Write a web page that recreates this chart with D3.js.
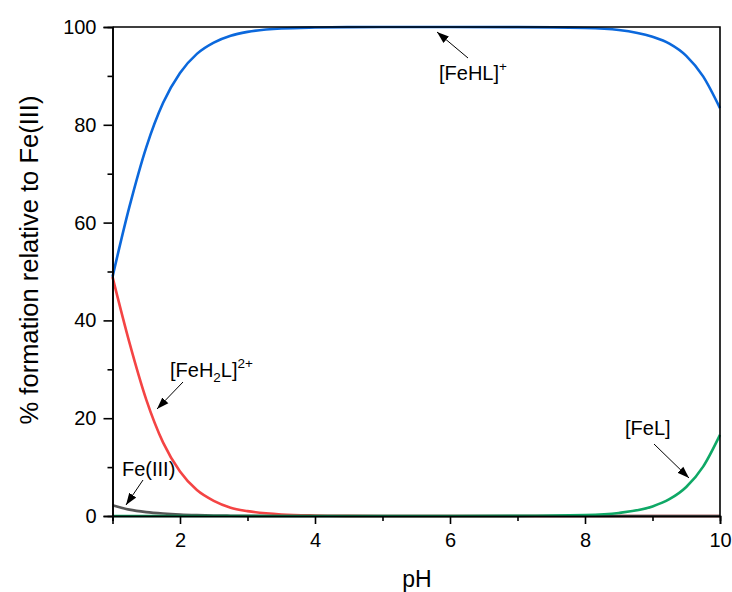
<!DOCTYPE html>
<html>
<head>
<meta charset="utf-8">
<script src="https://cdn.jsdelivr.net/npm/d3@7"></script>
<style>
  body { margin: 0; background: #fff; }
  svg text { font-family: "Liberation Sans", Arial, sans-serif; fill: #000; }
</style>
</head>
<body>
<svg id="chart" width="732" height="592"></svg>
<script>
/* species distribution, % relative to Fe(III) */
const pH = [1, 1.25, 1.5, 1.75, 2, 2.25, 2.5, 2.75, 3, 3.5, 4, 4.5, 5, 6, 7, 8, 8.5, 9, 9.25, 9.5, 9.75, 10];
const feFree = [2.2, 1.3, 0.8, 0.5, 0.3, 0.18, 0.1, 0.06, 0.03, 0.01, 0, 0, 0, 0, 0, 0, 0, 0, 0, 0, 0, 0];
const feH2L = [48.9, 35.5, 23.8, 15.0, 9.1, 5.3, 3.1, 1.7, 1.0, 0.32, 0.1, 0.03, 0.01, 0, 0, 0, 0, 0, 0, 0, 0, 0];
const feHL = [48.9, 63.2, 75.4, 84.5, 90.6, 94.5, 96.8, 98.2, 99.0, 99.7, 99.9, 99.97, 99.99, 100, 99.98, 99.8, 99.4, 98.0, 96.6, 94.1, 89.9, 83.4];
const feL = [0, 0, 0, 0, 0, 0, 0, 0, 0, 0, 0, 0, 0, 0, 0.02, 0.2, 0.63, 1.96, 3.43, 5.93, 10.1, 16.6];

const xMajor = [2, 4, 6, 8, 10];
const xMinor = [1, 3, 5, 7, 9];
const yMajor = [0, 20, 40, 60, 80, 100];
const yMinor = [10, 30, 50, 70, 90];

const svg = d3.select("#chart");
const m = { left: 112.5, right: 720, top: 27, bottom: 516 };

const x = d3.scaleLinear().domain([1, 10]).range([m.left, m.right]);
const y = d3.scaleLinear().domain([0, 100]).range([m.bottom, m.top]);

/* curves: red and grey under green, blue last */
const series = [
  { v: feH2L, c: "#f44444" },
  { v: feFree, c: "#555555" },
  { v: feL, c: "#0fa866" },
  { v: feHL, c: "#0b68dc" }
];
const line = d3.line().x(d => x(d[0])).y(d => y(d[1])).curve(d3.curveMonotoneX);
series.forEach(s => {
  svg.append("path")
    .datum(pH.map((p, i) => [p, s.v[i]]))
    .attr("fill", "none").attr("stroke", s.c).attr("stroke-width", 2.6)
    .attr("d", line);
});

/* frame */
svg.append("path")
  .attr("d", `M${m.left},${m.top}H${m.right}V${m.bottom}`)
  .attr("fill", "none").attr("stroke", "#000").attr("stroke-width", 1.6);

function styleAxis(g) {
  g.select(".domain").attr("stroke", "#000").attr("stroke-width", 1.6);
  g.selectAll(".tick line").attr("stroke", "#000").attr("stroke-width", 1.6);
  g.selectAll(".tick text").style("font-size", "20px").style("font-family", "Liberation Sans, Arial, sans-serif");
}

svg.append("g").attr("transform", `translate(0,${m.bottom})`)
  .call(d3.axisBottom(x).tickValues(xMinor).tickSize(5).tickFormat(""))
  .call(styleAxis);
svg.append("g").attr("transform", `translate(0,${m.bottom})`)
  .call(d3.axisBottom(x).tickValues(xMajor).tickSize(8).tickPadding(9).tickFormat(d3.format("d")))
  .call(styleAxis);
svg.append("g").attr("transform", `translate(${m.left},0)`)
  .call(d3.axisLeft(y).tickValues(yMinor).tickSize(5).tickFormat(""))
  .call(styleAxis);
svg.append("g").attr("transform", `translate(${m.left},0)`)
  .call(d3.axisLeft(y).tickValues(yMajor).tickSize(9).tickPadding(7).tickFormat(d3.format("d")))
  .call(styleAxis);

/* axis titles */
svg.append("text").attr("x", 417).attr("y", 587).attr("text-anchor", "middle")
  .style("font-size", "23px").text("pH");
svg.append("text").attr("transform", "rotate(-90)").attr("x", -260).attr("y", 38)
  .attr("text-anchor", "middle").style("font-size", "25.5px").text("% formation relative to Fe(III)");

/* arrows + labels */
svg.append("defs").append("marker")
  .attr("id", "head").attr("viewBox", "0 0 10 10").attr("refX", 10).attr("refY", 5)
  .attr("markerWidth", 12).attr("markerHeight", 12).attr("markerUnits", "userSpaceOnUse")
  .attr("orient", "auto")
  .append("path").attr("d", "M0,1.5L10,5L0,8.5Z").attr("fill", "#000");

function arrow(x1, y1, x2, y2) {
  svg.append("line").attr("x1", x1).attr("y1", y1).attr("x2", x2).attr("y2", y2)
    .attr("stroke", "#000").attr("stroke-width", 1).attr("marker-end", "url(#head)");
}

arrow(468, 58, 437, 32);
arrow(183, 382, 157, 409);
arrow(143, 480, 126, 505);
arrow(654, 444, 689, 478);

const t1 = svg.append("text").attr("x", 439).attr("y", 80).style("font-size", "20px");
t1.append("tspan").text("[FeHL]");
t1.append("tspan").attr("dy", -9).style("font-size", "13.5px").text("+");

const t2 = svg.append("text").attr("x", 170).attr("y", 377).style("font-size", "20px");
t2.append("tspan").text("[FeH");
t2.append("tspan").attr("dy", 5).style("font-size", "13.5px").text("2");
t2.append("tspan").attr("dy", -5).text("L]");
t2.append("tspan").attr("dy", -9).style("font-size", "13.5px").text("2+");

svg.append("text").attr("x", 122).attr("y", 476).style("font-size", "20px").text("Fe(III)");
svg.append("text").attr("x", 625).attr("y", 435).style("font-size", "20px").text("[FeL]");
</script>
</body>
</html>
